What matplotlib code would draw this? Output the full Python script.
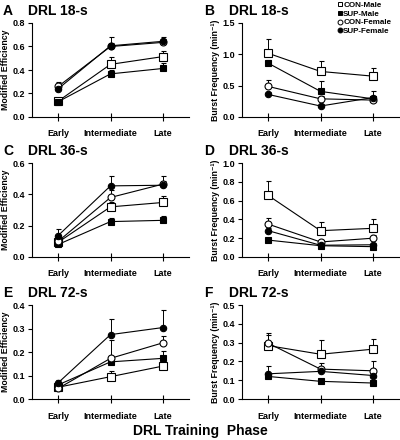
import numpy as np
import matplotlib
matplotlib.use('Agg')
import matplotlib.pyplot as plt
from matplotlib.lines import Line2D

plt.rcParams['font.family'] = ['Liberation Sans', 'DejaVu Sans']

phases = ['Early', 'Intermediate', 'Late']
groups = ['CON-Male', 'SUP-Male', 'CON-Female', 'SUP-Female']

# panel A: DRL 18-s, modified efficiency
a_mean = {'CON-Male': [0.135, 0.448, 0.514], 'SUP-Male': [0.13, 0.367, 0.413],
          'CON-Female': [0.26, 0.60, 0.635], 'SUP-Female': [0.24, 0.606, 0.644]}
a_err = {'CON-Male': [0.01, 0.066, 0.05], 'SUP-Male': [0.01, 0.03, 0.045],
         'CON-Female': [0.04, 0.03, 0.03], 'SUP-Female': [0.03, 0.075, 0.04]}
# panel B: DRL 18-s, burst frequency
b_mean = {'CON-Male': [1.017, 0.727, 0.652], 'SUP-Male': [0.859, 0.409, 0.29],
          'CON-Female': [0.488, 0.29, 0.27], 'SUP-Female': [0.36, 0.175, 0.31]}
b_err = {'CON-Male': [0.23, 0.16, 0.13], 'SUP-Male': [0.05, 0.16, 0.05],
         'CON-Female': [0.11, 0.05, 0.04], 'SUP-Female': [0.04, 0.03, 0.10]}
# panel C: DRL 36-s
c_mean = {'CON-Male': [0.094, 0.32, 0.348], 'SUP-Male': [0.08, 0.226, 0.234],
          'CON-Female': [0.10, 0.38, 0.465], 'SUP-Female': [0.137, 0.454, 0.458]}
c_err = {'CON-Male': [0.01, 0.03, 0.04], 'SUP-Male': [0.01, 0.02, 0.028],
         'CON-Female': [0.02, 0.05, 0.05], 'SUP-Female': [0.04, 0.06, 0.03]}
# panel D
d_mean = {'CON-Male': [0.655, 0.28, 0.305], 'SUP-Male': [0.18, 0.12, 0.11],
          'CON-Female': [0.35, 0.16, 0.20], 'SUP-Female': [0.28, 0.125, 0.13]}
d_err = {'CON-Male': [0.155, 0.095, 0.10], 'SUP-Male': [0.02, 0.01, 0.01],
         'CON-Female': [0.065, 0.02, 0.03], 'SUP-Female': [0.03, 0.02, 0.02]}
# panel E: DRL 72-s
e_mean = {'CON-Male': [0.05, 0.095, 0.14], 'SUP-Male': [0.06, 0.158, 0.173],
          'CON-Female': [0.045, 0.173, 0.239], 'SUP-Female': [0.069, 0.274, 0.304]}
e_err = {'CON-Male': [0.01, 0.025, 0.01], 'SUP-Male': [0.01, 0.02, 0.031],
         'CON-Female': [0.01, 0.08, 0.03], 'SUP-Female': [0.01, 0.068, 0.074]}
# panel F
f_mean = {'CON-Male': [0.284, 0.238, 0.265], 'SUP-Male': [0.12, 0.094, 0.085],
          'CON-Female': [0.297, 0.159, 0.15], 'SUP-Female': [0.134, 0.147, 0.125]}
f_err = {'CON-Male': [0.056, 0.077, 0.055], 'SUP-Male': [0.02, 0.01, 0.01],
         'CON-Female': [0.053, 0.03, 0.05], 'SUP-Female': [0.039, 0.02, 0.02]}

styles = {'CON-Male': ('s', 'white', 5.5), 'SUP-Male': ('s', 'black', 5.0),
          'CON-Female': ('o', 'white', 5.0), 'SUP-Female': ('o', 'black', 4.6)}

panels = [
    ('A', 'DRL 18-s', a_mean, a_err, 0.8, 0.2, 'Modified Efficiency'),
    ('B', 'DRL 18-s', b_mean, b_err, 1.5, 0.5, 'Burst Frequency (min⁻¹)'),
    ('C', 'DRL 36-s', c_mean, c_err, 0.6, 0.2, 'Modified Efficiency'),
    ('D', 'DRL 36-s', d_mean, d_err, 1.0, 0.2, 'Burst Frequency (min⁻¹)'),
    ('E', 'DRL 72-s', e_mean, e_err, 0.4, 0.1, 'Modified Efficiency'),
    ('F', 'DRL 72-s', f_mean, f_err, 0.5, 0.1, 'Burst Frequency (min⁻¹)'),
]

W, H = 400, 440
fig = plt.figure(figsize=(4.0, 4.4), dpi=100)

lefts = [32, 242]
tops = [23, 163, 305]
ax_w, ax_h = 157, 94

x = np.arange(1, 4)
for i, (letter, title, means, errs, ymax, ystep, ylab) in enumerate(panels):
    row, col = i // 2, i % 2
    l, t = lefts[col], tops[row]
    ax = fig.add_axes([l / W, 1 - (t + ax_h) / H, ax_w / W, ax_h / H])
    for g in groups:
        m, fc, ms = styles[g]
        err = np.array(errs[g])
        ax.errorbar(x, means[g], yerr=[np.zeros(3), err], color='black', lw=0.8,
                    marker=m, mfc=fc, mec='black', mew=0.8, ms=ms,
                    elinewidth=0.7, capsize=1.8, capthick=0.7)
    yt = np.arange(0, ymax + ystep / 2, ystep)
    ax.set_xlim(0.5, 3.5)
    ax.set_ylim(0, ymax)
    ax.set_yticks(yt)
    ax.set_yticklabels(['%.1f' % v for v in yt], fontsize=6.5, fontweight='bold')
    ax.set_xticks(x)
    ax.set_xticklabels(phases, fontsize=6.5, fontweight='bold')
    ax.tick_params(axis='x', direction='inout', length=6, width=0.8, pad=6)
    ax.tick_params(axis='y', direction='out', length=3, width=0.8, pad=2)
    for s in ['top', 'right']:
        ax.spines[s].set_visible(False)
    for s in ['left', 'bottom']:
        ax.spines[s].set_linewidth(0.8)
    ax.set_ylabel(ylab, fontsize=6.3, fontweight='bold')
    ax.yaxis.set_label_coords(-0.14, 0.5)
    lx = 3 if col == 0 else 204
    tx = 28 if col == 0 else 229
    ty = t - 12
    fig.text(lx / W, 1 - ty / H, letter, fontsize=10, fontweight='bold', va='center')
    fig.text(tx / W, 1 - ty / H, title, fontsize=10, fontweight='bold', va='center')

handles = [Line2D([], [], ls='none', marker=styles[g][0], mfc=styles[g][1], mec='black',
                  mew=0.7, ms=3.5) for g in groups]
fig.legend(handles, groups, loc='upper left', bbox_to_anchor=(336 / W, 1 - 0 / H),
           frameon=False, prop={'weight': 'bold', 'size': 5.8},
           handlelength=0.5, handletextpad=0.2, labelspacing=0.12, borderpad=0.1,
           borderaxespad=0.1)

fig.text(0.5, 1 - 431 / H, 'DRL Training  Phase', ha='center', va='center',
         fontsize=10, fontweight='bold')

fig.savefig('out.png', dpi=100)
